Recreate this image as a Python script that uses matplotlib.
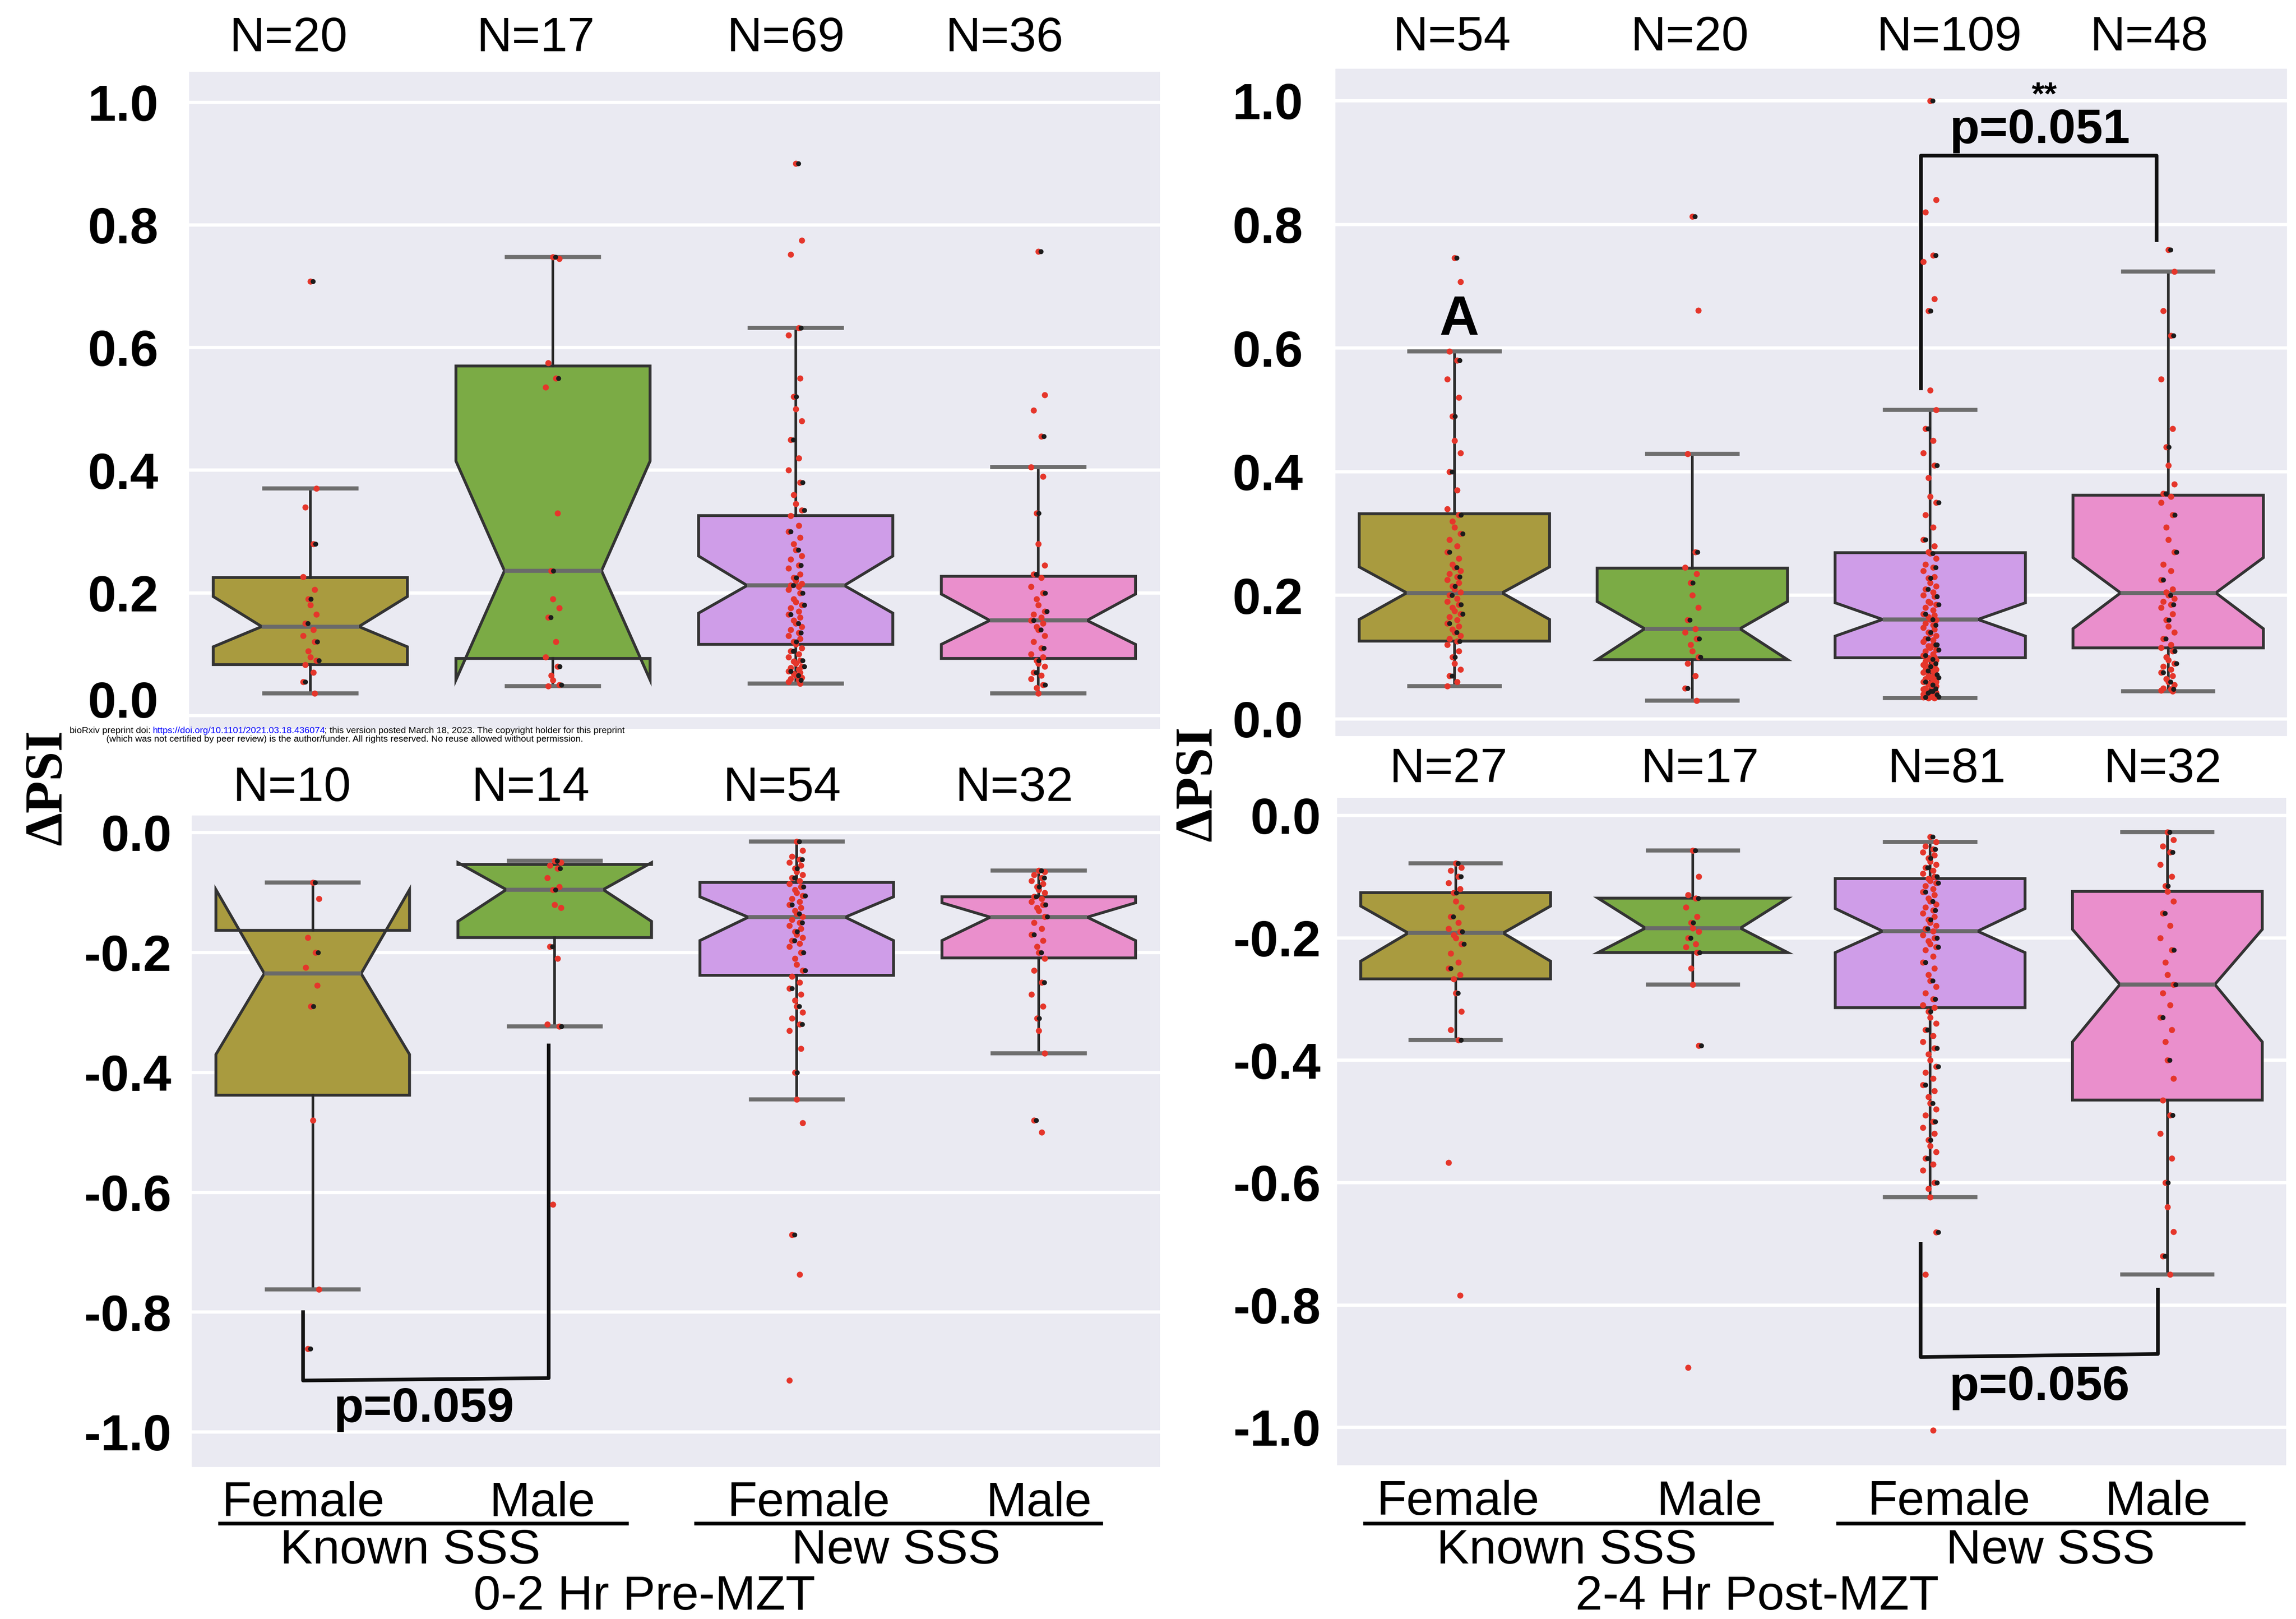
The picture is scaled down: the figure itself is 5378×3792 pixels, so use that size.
import matplotlib
matplotlib.use("Agg")
import matplotlib.pyplot as plt
from matplotlib.lines import Line2D
from matplotlib.transforms import ScaledTranslation

plt.rcParams['font.family'] = ['Liberation Sans', 'DejaVu Sans']
plt.rcParams['axes.unicode_minus'] = False

# categories
sex_labels = ['Female', 'Male', 'Female', 'Male']
set_labels = ['Known SSS', 'New SSS']
palette = ['#a99b3f', '#7bab45', '#cf9de8', '#ea8fcc']

# ---- 0-2 Hr Pre-MZT, positive dPSI ----
pre_up_n = [20, 17, 69, 36]
pre_up_med = [0.145, 0.236, 0.212, 0.155]
pre_up_q1 = [0.083, 0.093, 0.116, 0.093]
pre_up_q3 = [0.225, 0.570, 0.326, 0.227]
pre_up_cilo = [0.112, 0.058, 0.167, 0.116]
pre_up_cihi = [0.194, 0.415, 0.260, 0.198]
pre_up_wlo = [0.036, 0.048, 0.052, 0.036]
pre_up_whi = [0.370, 0.748, 0.632, 0.405]
pre_up_kf = [0.708, 0.37, 0.34, 0.28, 0.226, 0.205, 0.19, 0.18, 0.165, 0.15,
             0.14, 0.13, 0.12, 0.105, 0.095, 0.09, 0.083, 0.07, 0.055, 0.036]
pre_up_km = [0.748, 0.745, 0.575, 0.55, 0.535, 0.33, 0.236, 0.19, 0.175, 0.16,
             0.12, 0.095, 0.08, 0.065, 0.058, 0.05, 0.048]
pre_up_nf = [0.90, 0.775, 0.752, 0.632, 0.62, 0.55, 0.52, 0.50, 0.48, 0.45,
             0.42, 0.40, 0.38, 0.36, 0.345, 0.335, 0.326, 0.31, 0.30, 0.29,
             0.28, 0.27, 0.26, 0.255, 0.245, 0.24, 0.23, 0.225, 0.22, 0.215,
             0.212, 0.21, 0.205, 0.20, 0.19, 0.185, 0.18, 0.175, 0.17, 0.165,
             0.16, 0.155, 0.15, 0.145, 0.14, 0.135, 0.13, 0.125, 0.12, 0.116,
             0.11, 0.105, 0.10, 0.095, 0.09, 0.088, 0.085, 0.08, 0.078, 0.075,
             0.072, 0.07, 0.068, 0.065, 0.062, 0.06, 0.058, 0.055, 0.052]
pre_up_nm = [0.757, 0.523, 0.498, 0.455, 0.405, 0.39, 0.33, 0.28, 0.245, 0.23,
             0.225, 0.21, 0.20, 0.19, 0.18, 0.17, 0.165, 0.16, 0.155, 0.15,
             0.145, 0.14, 0.13, 0.12, 0.11, 0.10, 0.095, 0.09, 0.085, 0.08,
             0.07, 0.065, 0.06, 0.05, 0.045, 0.036]

# ---- 0-2 Hr Pre-MZT, negative dPSI ----
pre_dn_n = [10, 14, 54, 32]
pre_dn_med = [-0.235, -0.095, -0.141, -0.141]
pre_dn_q1 = [-0.438, -0.175, -0.238, -0.209]
pre_dn_q3 = [-0.163, -0.053, -0.083, -0.107]
pre_dn_cilo = [-0.370, -0.148, -0.180, -0.180]
pre_dn_cihi = [-0.095, -0.050, -0.107, -0.117]
pre_dn_wlo = [-0.762, -0.323, -0.445, -0.368]
pre_dn_whi = [-0.083, -0.047, -0.015, -0.063]
pre_dn_kf = [-0.083, -0.11, -0.175, -0.20, -0.225, -0.255, -0.29, -0.48, -0.762, -0.861]
pre_dn_km = [-0.047, -0.05, -0.055, -0.06, -0.075, -0.09, -0.095, -0.12, -0.125,
             -0.19, -0.21, -0.32, -0.323, -0.62]
pre_dn_nf = [-0.015, -0.03, -0.04, -0.045, -0.05, -0.055, -0.06, -0.065, -0.07, -0.075,
             -0.08, -0.085, -0.09, -0.095, -0.10, -0.105, -0.11, -0.115, -0.12, -0.125,
             -0.13, -0.135, -0.14, -0.145, -0.15, -0.155, -0.16, -0.165, -0.17, -0.175,
             -0.18, -0.185, -0.19, -0.20, -0.21, -0.22, -0.23, -0.24, -0.25, -0.26,
             -0.27, -0.28, -0.29, -0.30, -0.31, -0.32, -0.33, -0.36, -0.40, -0.445,
             -0.484, -0.671, -0.737, -0.914]
pre_dn_nm = [-0.063, -0.065, -0.07, -0.075, -0.08, -0.085, -0.09, -0.095, -0.10, -0.107,
             -0.11, -0.115, -0.12, -0.125, -0.13, -0.14, -0.15, -0.16, -0.17, -0.18,
             -0.19, -0.20, -0.21, -0.23, -0.25, -0.27, -0.29, -0.31, -0.33, -0.368,
             -0.48, -0.50]

# ---- 2-4 Hr Post-MZT, positive dPSI ----
post_up_n = [54, 20, 109, 48]
post_up_med = [0.204, 0.146, 0.161, 0.204]
post_up_q1 = [0.126, 0.096, 0.099, 0.115]
post_up_q3 = [0.332, 0.244, 0.269, 0.362]
post_up_cilo = [0.161, 0.096, 0.134, 0.146]
post_up_cihi = [0.246, 0.190, 0.188, 0.261]
post_up_wlo = [0.053, 0.030, 0.034, 0.045]
post_up_whi = [0.595, 0.429, 0.500, 0.724]
post_up_kf = [0.746, 0.707, 0.595, 0.58, 0.55, 0.52, 0.49, 0.45, 0.43, 0.40,
              0.37, 0.34, 0.33, 0.32, 0.31, 0.30, 0.29, 0.28, 0.27, 0.26,
              0.25, 0.245, 0.24, 0.235, 0.23, 0.225, 0.22, 0.215, 0.21, 0.205,
              0.20, 0.195, 0.19, 0.185, 0.18, 0.175, 0.17, 0.165, 0.16, 0.155,
              0.15, 0.145, 0.14, 0.135, 0.13, 0.126, 0.12, 0.11, 0.10, 0.09,
              0.08, 0.07, 0.06, 0.053]
post_up_km = [0.813, 0.661, 0.429, 0.27, 0.245, 0.235, 0.22, 0.20, 0.18, 0.16,
              0.146, 0.14, 0.13, 0.12, 0.11, 0.10, 0.09, 0.07, 0.05, 0.03]
post_up_nf = [1.0, 0.84, 0.82, 0.75, 0.74, 0.68, 0.66, 0.532, 0.50, 0.47,
              0.45, 0.43, 0.41, 0.39, 0.36, 0.35, 0.33, 0.31, 0.29, 0.28,
              0.27, 0.268, 0.26, 0.25, 0.245, 0.24, 0.23, 0.228, 0.22, 0.215,
              0.21, 0.205, 0.20, 0.198, 0.19, 0.188, 0.185, 0.18, 0.176, 0.17,
              0.168, 0.165, 0.161, 0.16, 0.155, 0.152, 0.148, 0.145, 0.14, 0.138,
              0.135, 0.13, 0.128, 0.125, 0.12, 0.118, 0.115, 0.112, 0.11, 0.105,
              0.103, 0.10, 0.099, 0.097, 0.095, 0.093, 0.09, 0.088, 0.086, 0.085,
              0.083, 0.08, 0.078, 0.077, 0.075, 0.072, 0.07, 0.068, 0.067, 0.065,
              0.063, 0.06, 0.058, 0.057, 0.055, 0.053, 0.05, 0.049, 0.048, 0.046,
              0.045, 0.044, 0.043, 0.042, 0.041, 0.04, 0.039, 0.038, 0.037, 0.036,
              0.036, 0.035, 0.035, 0.034, 0.034, 0.045, 0.06, 0.08, 0.12]
post_up_nm = [0.759, 0.724, 0.66, 0.62, 0.55, 0.47, 0.44, 0.41, 0.38, 0.365,
              0.36, 0.35, 0.33, 0.31, 0.29, 0.27, 0.25, 0.24, 0.225, 0.21,
              0.205, 0.20, 0.195, 0.19, 0.185, 0.18, 0.17, 0.16, 0.15, 0.14,
              0.13, 0.12, 0.115, 0.11, 0.10, 0.095, 0.09, 0.085, 0.08, 0.075,
              0.07, 0.065, 0.06, 0.055, 0.05, 0.048, 0.046, 0.045]

# ---- 2-4 Hr Post-MZT, negative dPSI ----
post_dn_n = [27, 17, 81, 32]
post_dn_med = [-0.192, -0.184, -0.189, -0.276]
post_dn_q1 = [-0.267, -0.224, -0.314, -0.465]
post_dn_q3 = [-0.126, -0.135, -0.103, -0.124]
post_dn_cilo = [-0.238, -0.224, -0.224, -0.370]
post_dn_cihi = [-0.148, -0.135, -0.152, -0.186]
post_dn_wlo = [-0.367, -0.276, -0.624, -0.750]
post_dn_whi = [-0.078, -0.057, -0.043, -0.027]
post_dn_kf = [-0.078, -0.085, -0.09, -0.10, -0.11, -0.12, -0.126, -0.14, -0.15, -0.165,
              -0.175, -0.185, -0.19, -0.195, -0.20, -0.21, -0.225, -0.24, -0.25, -0.26,
              -0.267, -0.29, -0.32, -0.35, -0.367, -0.567, -0.784]
post_dn_km = [-0.057, -0.10, -0.13, -0.135, -0.15, -0.165, -0.175, -0.184, -0.19, -0.20,
              -0.21, -0.215, -0.224, -0.25, -0.276, -0.376, -0.902]
post_dn_nf = [-0.035, -0.043, -0.05, -0.055, -0.06, -0.065, -0.07, -0.075, -0.08, -0.085,
              -0.09, -0.095, -0.10, -0.103, -0.107, -0.11, -0.115, -0.12, -0.125, -0.13,
              -0.135, -0.14, -0.145, -0.15, -0.155, -0.16, -0.165, -0.17, -0.175, -0.18,
              -0.185, -0.189, -0.195, -0.20, -0.205, -0.21, -0.215, -0.22, -0.23, -0.24,
              -0.25, -0.26, -0.27, -0.28, -0.29, -0.30, -0.31, -0.314, -0.32, -0.33,
              -0.34, -0.35, -0.36, -0.37, -0.38, -0.39, -0.40, -0.41, -0.42, -0.43,
              -0.44, -0.45, -0.46, -0.47, -0.48, -0.49, -0.50, -0.51, -0.52, -0.53,
              -0.54, -0.55, -0.56, -0.57, -0.58, -0.60, -0.61, -0.624, -0.681, -0.75,
              -1.005]
post_dn_nm = [-0.027, -0.04, -0.05, -0.06, -0.08, -0.10, -0.115, -0.124, -0.14, -0.16,
              -0.18, -0.20, -0.22, -0.24, -0.26, -0.276, -0.29, -0.31, -0.33, -0.35,
              -0.37, -0.40, -0.43, -0.465, -0.49, -0.52, -0.56, -0.60, -0.64, -0.68,
              -0.72, -0.75]

jit = [0.0, 0.025, -0.02, 0.012, -0.03, 0.018, -0.008]


def draw_panel(ax, med, q1, q3, cilo, cihi, wlo, whi, points, ylim, yticks, ypad):
    stats = []
    for i in range(4):
        stats.append(dict(med=med[i], q1=q1[i], q3=q3[i], cilo=cilo[i], cihi=cihi[i],
                          whislo=wlo[i], whishi=whi[i], fliers=[]))
    ax.set_facecolor('#eaeaf2')
    for s in ax.spines.values():
        s.set_visible(False)
    ax.set_axisbelow(True)
    ax.yaxis.grid(True, color='white', lw=1.6)
    bp = ax.bxp(stats, positions=range(4), widths=0.8, shownotches=True,
                patch_artist=True, showfliers=False, capwidths=0.38,
                boxprops=dict(edgecolor='#333333', linewidth=1.4),
                whiskerprops=dict(color='#2b2b2b', linewidth=1.3),
                capprops=dict(color='#6e6e6e', linewidth=2.0),
                medianprops=dict(color='#6a6a6a', linewidth=2.0))
    for patch, c in zip(bp['boxes'], palette):
        patch.set_facecolor(c)
    for i, vals in enumerate(points):
        xs = [i + jit[k % len(jit)] for k in range(len(vals))]
        ax.scatter(xs, vals, s=9, color='#e5362b', lw=0, zorder=4)
        blk = [k for k in range(len(vals)) if k % 3 == 0]
        ax.scatter([xs[k] + 0.01 for k in blk], [vals[k] for k in blk],
                   s=6, color='#1c1c1c', lw=0, zorder=5)
    ax.set_xlim(-0.5, 3.5)
    ax.set_ylim(*ylim)
    ax.set_yticks(yticks)
    ax.set_yticklabels([f'{t:.1f}' for t in yticks], fontsize=25, fontweight='bold')
    ax.tick_params(axis='y', length=0, pad=ypad)
    ax.tick_params(axis='x', length=0)


def n_labels(ax, ns, xs, dy):
    for x, n in zip(xs, ns):
        ax.text(x, 1 + dy, f'N={n}', transform=ax.get_xaxis_transform(),
                ha='center', va='center', fontsize=24)


fig = plt.figure(figsize=(15.68, 11.056), dpi=343)
ax_tl = fig.add_axes([0.0823, 0.5497, 0.4228, 0.406])
ax_bl = fig.add_axes([0.0835, 0.0940, 0.4216, 0.4024])
ax_tr = fig.add_axes([0.5816, 0.5452, 0.4145, 0.4123])
ax_br = fig.add_axes([0.5823, 0.0949, 0.4133, 0.4123])

up_ticks = [0.0, 0.2, 0.4, 0.6, 0.8, 1.0]
dn_ticks = [-1.0, -0.8, -0.6, -0.4, -0.2, 0.0]

draw_panel(ax_tl, pre_up_med, pre_up_q1, pre_up_q3, pre_up_cilo, pre_up_cihi,
           pre_up_wlo, pre_up_whi, [pre_up_kf, pre_up_km, pre_up_nf, pre_up_nm],
           (-0.022, 1.05), up_ticks, 15)
draw_panel(ax_bl, pre_dn_med, pre_dn_q1, pre_dn_q3, pre_dn_cilo, pre_dn_cihi,
           pre_dn_wlo, pre_dn_whi, [pre_dn_kf, pre_dn_km, pre_dn_nf, pre_dn_nm],
           (-1.058, 0.029), dn_ticks, 10)
draw_panel(ax_tr, post_up_med, post_up_q1, post_up_q3, post_up_cilo, post_up_cihi,
           post_up_wlo, post_up_whi, [post_up_kf, post_up_km, post_up_nf, post_up_nm],
           (-0.028, 1.052), up_ticks, 16)
draw_panel(ax_br, post_dn_med, post_dn_q1, post_dn_q3, post_dn_cilo, post_dn_cihi,
           post_dn_wlo, post_dn_whi, [post_dn_kf, post_dn_km, post_dn_nf, post_dn_nm],
           (-1.062, 0.029), dn_ticks, 8)

# the 0.0 label of the upper-left panel sits a little above its gridline
lab0 = ax_tl.get_yticklabels()[0]
lab0.set_transform(lab0.get_transform() + ScaledTranslation(0, 8 / 72, fig.dpi_scale_trans))

n_labels(ax_tl, pre_up_n, [-0.09, 0.93, 1.96, 2.86], 0.05)
n_labels(ax_bl, pre_dn_n, [-0.085, 0.90, 1.94, 2.90], 0.041)
n_labels(ax_tr, post_up_n, [-0.01, 0.99, 2.08, 2.92], 0.046)
n_labels(ax_br, post_dn_n, [-0.03, 1.03, 2.07, 2.98], 0.042)

for ax in (ax_tl, ax_tr):
    ax.set_xticks([])
ax_bl.set_xticks([-0.04, 0.95, 2.05, 3.0])
ax_bl.set_xticklabels(sex_labels, fontsize=24)
ax_br.set_xticks([0.01, 1.07, 2.08, 2.96])
ax_br.set_xticklabels(sex_labels, fontsize=24)
ax_bl.tick_params(axis='x', pad=7)
ax_br.tick_params(axis='x', pad=7)

# significance brackets
ax_tr.plot([1.96, 1.96, 2.95, 2.95], [0.535, 0.912, 0.912, 0.775], color='#111111', lw=1.8)
ax_tr.text(2.46, 0.952, 'p=0.051', ha='center', va='center', fontsize=24, fontweight='bold')
ax_tr.text(2.48, 1.008, '**', ha='center', va='center', fontsize=16, fontweight='bold')
ax_tr.text(0.02, 0.645, 'A', ha='center', va='center', fontsize=27, fontweight='bold')
ax_br.plot([1.96, 1.96, 2.96, 2.96], [-0.70, -0.885, -0.88, -0.775], color='#111111', lw=1.8)
ax_br.text(2.46, -0.935, 'p=0.056', ha='center', va='center', fontsize=24, fontweight='bold')
ax_bl.plot([-0.04, -0.04, 0.975, 0.975], [-0.80, -0.914, -0.91, -0.355], color='#111111', lw=1.8)
ax_bl.text(0.46, -0.962, 'p=0.059', ha='center', va='center', fontsize=24, fontweight='bold')

# group underlines and labels
for x0, x1 in [(0.0957, 0.2730), (0.3030, 0.4796), (0.5944, 0.7717), (0.8004, 0.9770)]:
    fig.add_artist(Line2D([x0, x1], [0.0591, 0.0591], color='black', lw=1.8))
for x, lab in zip([0.1786, 0.3903, 0.6824, 0.8929], set_labels * 2):
    fig.text(x, 0.0420, lab, ha='center', va='center', fontsize=24)
fig.text(0.2806, 0.0135, '0-2 Hr Pre-MZT', ha='center', va='center', fontsize=24)
fig.text(0.7653, 0.0135, '2-4 Hr Post-MZT', ha='center', va='center', fontsize=24)

serif = ['Liberation Serif', 'DejaVu Serif']
fig.text(0.021, 0.5136, '\u0394PSI', rotation=90, ha='center', va='center',
         fontsize=26, fontweight='bold', family=serif)
fig.text(0.522, 0.516, '\u0394PSI', rotation=90, ha='center', va='center',
         fontsize=26, fontweight='bold', family=serif)

# preprint stamp
renderer = fig.canvas.get_renderer()
figw = fig.bbox.width
parts = [('bioRxiv preprint doi: ', 'black'),
         ('https://doi.org/10.1101/2021.03.18.436074', 'blue'),
         ('; this version posted March 18, 2023. The copyright holder for this preprint', 'black')]
base = 4.0
widths = []
for txt, col in parts:
    t = fig.text(0, 0, txt, fontsize=base)
    widths.append(t.get_window_extent(renderer).width)
    t.remove()
scale = (0.2711 - 0.0303) * figw / sum(widths)
x = 0.0303
for (txt, col), w in zip(parts, widths):
    fig.text(x, 0.5486, txt, fontsize=base * scale, color=col, va='center', ha='left')
    x += w * scale / figw
fig.text(0.1502, 0.5434, '(which was not certified by peer review) is the author/funder. '
         'All rights reserved. No reuse allowed without permission.',
         fontsize=base * scale, va='center', ha='center')

fig.savefig('out.png', dpi=343, facecolor='white')
